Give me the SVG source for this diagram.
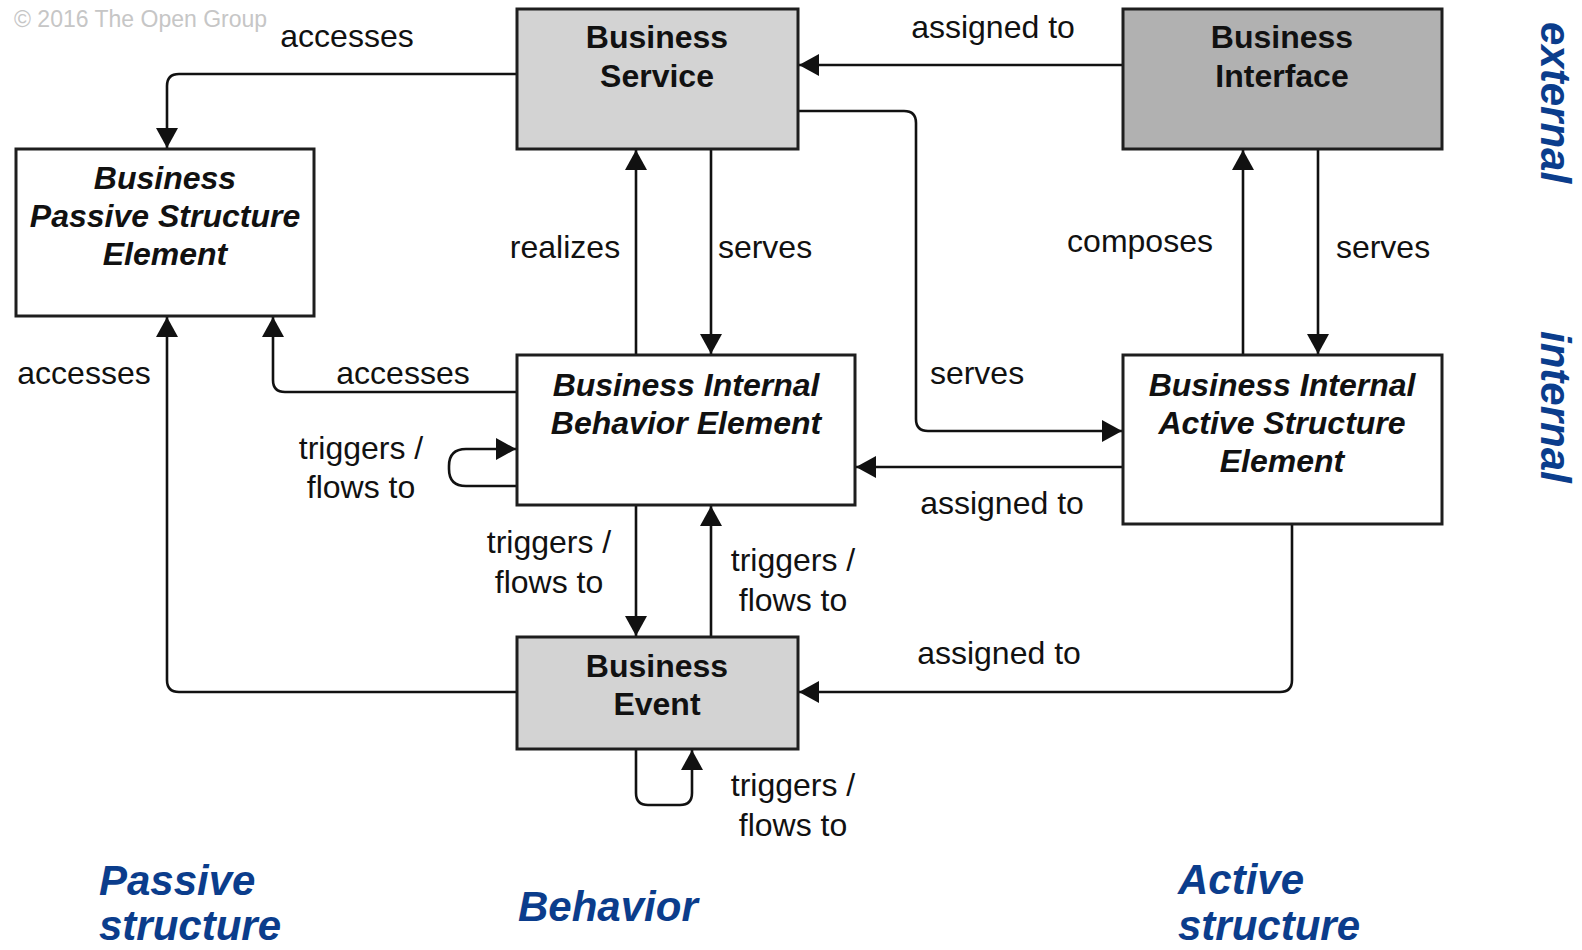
<svg xmlns="http://www.w3.org/2000/svg" width="1582" height="950" viewBox="0 0 1582 950">
<style>
.box{stroke:#1e1e1e;stroke-width:3}
.white{fill:#ffffff}
.grey{fill:#d3d3d3}
.dark{fill:#b1b1b1}
.nt{font-family:"Liberation Sans",Arial,sans-serif;font-size:32px;font-weight:bold;fill:#111;text-anchor:middle}
.it{font-style:italic}
.lbl{font-family:"Liberation Sans",Arial,sans-serif;font-size:32px;fill:#111;text-anchor:middle}
.conn path{fill:none;stroke:#111;stroke-width:2.6;marker-end:url(#arr)}
.blue{font-family:"Liberation Sans",Arial,sans-serif;font-size:42px;font-weight:bold;font-style:italic;fill:#0b3d8c}
.copy{font-family:"Liberation Sans",Arial,sans-serif;font-size:23px;fill:#c6c6c6}
</style>
<defs>
<marker id="arr" markerUnits="userSpaceOnUse" markerWidth="22" markerHeight="22" refX="20" refY="11" orient="auto">
<path d="M0,0 L20,11 L0,22 Z" fill="#111"/>
</marker>
</defs>
<rect width="1582" height="950" fill="#ffffff"/>
<text class="copy" x="14" y="27">© 2016 The Open Group</text>

<g class="conn">
<path d="M517,74 H179 Q167,74 167,86 V148"/>
<path d="M1123,65 H799"/>
<path d="M798,111 H904 Q916,111 916,123 V419 Q916,431 928,431 H1122"/>
<path d="M636,355 V150"/>
<path d="M711,149 V354"/>
<path d="M1243,355 V150"/>
<path d="M1318,149 V354"/>
<path d="M517,392 H285 Q273,392 273,380 V317"/>
<path d="M517,692 H179 Q167,692 167,680 V317"/>
<path d="M517,486 H466 Q449,486 449,469 V466 Q449,449 466,449 H516"/>
<path d="M1123,467 H856"/>
<path d="M636,505 V636"/>
<path d="M711,637 V506"/>
<path d="M1292,524 V680 Q1292,692 1280,692 H799"/>
<path d="M636,749 V793 Q636,805 648,805 H680 Q692,805 692,793 V750"/>
</g>

<g id="business-service">
<rect class="box grey" x="517" y="9" width="281" height="140"/>
<text class="nt" x="657" y="48">Business</text>
<text class="nt" x="657" y="87">Service</text>
</g>
<g id="business-interface">
<rect class="box dark" x="1123" y="9" width="319" height="140"/>
<text class="nt" x="1282" y="48">Business</text>
<text class="nt" x="1282" y="87">Interface</text>
</g>
<g id="business-passive-structure-element">
<rect class="box white" x="16" y="149" width="298" height="167"/>
<text class="nt it" x="165" y="189">Business</text>
<text class="nt it" x="165" y="227">Passive Structure</text>
<text class="nt it" x="165" y="265">Element</text>
</g>
<g id="business-internal-behavior-element">
<rect class="box white" x="517" y="355" width="338" height="150"/>
<text class="nt it" x="686" y="396">Business Internal</text>
<text class="nt it" x="686" y="434">Behavior Element</text>
</g>
<g id="business-internal-active-structure-element">
<rect class="box white" x="1123" y="355" width="319" height="169"/>
<text class="nt it" x="1282" y="396">Business Internal</text>
<text class="nt it" x="1282" y="434">Active Structure</text>
<text class="nt it" x="1282" y="472">Element</text>
</g>
<g id="business-event">
<rect class="box grey" x="517" y="637" width="281" height="112"/>
<text class="nt" x="657" y="677">Business</text>
<text class="nt" x="657" y="715">Event</text>
</g>

<g id="labels">
<text class="lbl" x="347" y="47">accesses</text>
<text class="lbl" x="993" y="38">assigned to</text>
<text class="lbl" x="977" y="384">serves</text>
<text class="lbl" x="565" y="258">realizes</text>
<text class="lbl" x="765" y="258">serves</text>
<text class="lbl" x="1140" y="252">composes</text>
<text class="lbl" x="1383" y="258">serves</text>
<text class="lbl" x="403" y="384">accesses</text>
<text class="lbl" x="84" y="384">accesses</text>
<text class="lbl" x="361" y="459">triggers /</text>
<text class="lbl" x="361" y="498">flows to</text>
<text class="lbl" x="1002" y="514">assigned to</text>
<text class="lbl" x="549" y="553">triggers /</text>
<text class="lbl" x="549" y="593">flows to</text>
<text class="lbl" x="793" y="571">triggers /</text>
<text class="lbl" x="793" y="611">flows to</text>
<text class="lbl" x="999" y="664">assigned to</text>
<text class="lbl" x="793" y="796">triggers /</text>
<text class="lbl" x="793" y="836">flows to</text>
</g>

<g id="zones">
<text class="blue" x="1541" y="22" transform="rotate(90 1541 22)">external</text>
<text class="blue" x="1541" y="331" transform="rotate(90 1541 331)">internal</text>
<text class="blue" x="99" y="895">Passive</text>
<text class="blue" x="99" y="940">structure</text>
<text class="blue" x="518" y="921">Behavior</text>
<text class="blue" x="1178" y="894">Active</text>
<text class="blue" x="1178" y="940">structure</text>
</g>
</svg>
